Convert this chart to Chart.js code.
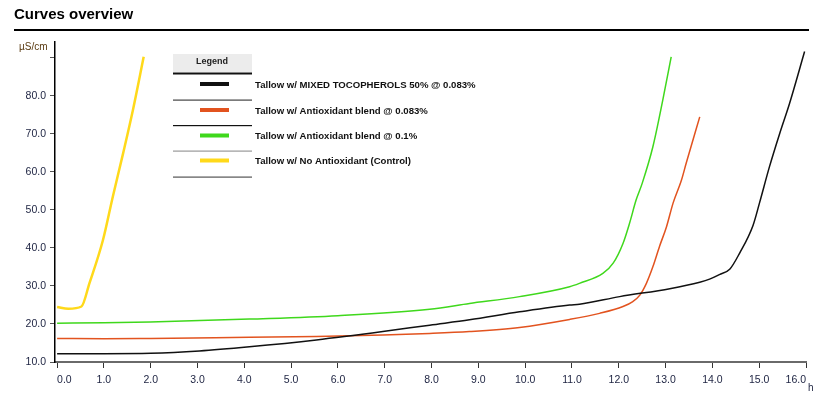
<!DOCTYPE html>
<html>
<head>
<meta charset="utf-8">
<script src="https://cdn.jsdelivr.net/npm/chart.js@4"></script>
<style>
  html, body { margin: 0; padding: 0; background: #fff; }
  #wrap { width: 814px; height: 397px; }
</style>
</head>
<body>
<div id="wrap"><canvas id="curves"></canvas></div>
<script>
// values (hours vs conductivity in µS/cm)
const seriesLabels = [
  "Tallow w/ MIXED TOCOPHEROLS 50% @ 0.083%",
  "Tallow w/ Antioxidant blend @ 0.083%",
  "Tallow w/ Antioxidant blend @ 0.1%",
  "Tallow w/ No Antioxidant (Control)"
];
const seriesColors = ["#111111", "#e2531f", "#3fd81c", "#ffd91a"];

const tocoHours = [0, 1.0, 2.0, 3.04, 4.11, 5.54, 6.96, 7.96, 8.81, 9.88, 10.95, 11.16, 12.02, 13.09, 13.73, 13.94, 14.15, 14.37, 14.58, 14.87, 15.01, 15.22, 15.44, 15.65, 15.97];
const tocoValues = [12.2, 12.2, 12.3, 12.9, 14.0, 15.8, 18.0, 19.7, 21.1, 23.2, 25.0, 25.2, 27.2, 29.3, 31.0, 31.8, 33.0, 34.4, 38.6, 46.0, 52.0, 61.4, 70.2, 78.1, 91.7];

const blend083Hours = [0, 1.0, 2.0, 4.11, 5.54, 6.96, 7.96, 8.81, 9.88, 10.95, 11.59, 12.09, 12.30, 12.45, 12.59, 12.73, 12.87, 13.02, 13.16, 13.34, 13.44, 13.73];
const blend083Values = [16.2, 16.1, 16.2, 16.5, 16.7, 17.1, 17.5, 18.0, 19.1, 21.2, 22.8, 24.6, 25.9, 27.6, 30.7, 35.1, 40.4, 45.6, 51.8, 57.9, 62.3, 74.5];

const blend01Hours = [0, 1.0, 1.99, 4.11, 6.0, 7.96, 8.81, 9.88, 10.95, 11.16, 11.66, 11.88, 12.09, 12.23, 12.37, 12.50, 12.73, 12.94, 13.12];
const blend01Values = [20.2, 20.3, 20.5, 21.3, 22.2, 23.9, 25.4, 27.2, 29.8, 30.7, 33.3, 36.0, 41.2, 46.5, 52.6, 57.0, 66.7, 78.9, 90.3];

const controlHours = [0, 0.24, 0.52, 0.69, 0.98, 1.19, 1.41, 1.62, 1.85];
const controlValues = [24.5, 24.0, 24.6, 30.7, 42.1, 53.5, 64.9, 76.3, 90.3];

const xTickValues = [0, 1, 2, 3, 4, 5, 6, 7, 8, 9, 10, 11, 12, 13, 14, 15, 16];
const yTickValues = [10, 20, 30, 40, 50, 60, 70, 80, 90];
const yLabelledMax = 80;

function toPoints(xs, ys) {
  return xs.map((x, i) => ({ x: x, y: ys[i] }));
}

const tickFont = { family: "'Liberation Sans', Arial, sans-serif", size: 10.5 };

// title, unit labels and the table-style legend
const decorPlugin = {
  id: "decor",
  afterDraw(chart) {
    const ctx = chart.ctx;
    ctx.save();
    ctx.fillStyle = "#000";
    ctx.font = "bold 15px 'Liberation Sans', Arial, sans-serif";
    ctx.textBaseline = "middle";
    ctx.textAlign = "left";
    ctx.fillText("Curves overview", 14, 15);
    ctx.fillRect(14, 29, 795, 2);

    ctx.fillStyle = "#5a3b12";
    ctx.font = "10px 'Liberation Sans', Arial, sans-serif";
    ctx.fillText("\u00b5S/cm", 19, 47);
    ctx.fillStyle = "#1c2240";
    ctx.fillText("h", 808, 388);

    // legend
    ctx.fillStyle = "#ececec";
    ctx.fillRect(173, 54, 79, 18);
    ctx.fillStyle = "#222";
    ctx.font = "bold 9px 'Liberation Sans', Arial, sans-serif";
    ctx.textAlign = "center";
    ctx.fillText("Legend", 212, 62);
    const sepY = [73, 100, 125.5, 151, 177];
    const sepColors = ["#111", "#444", "#111", "#999", "#555"];
    sepY.forEach((y, i) => {
      ctx.fillStyle = sepColors[i];
      ctx.fillRect(173, y - 0.5, 79, i === 0 ? 2 : 1.2);
    });
    const rowY = [84, 110, 135.5, 160.5];
    ctx.textAlign = "left";
    ctx.font = "bold 9.6px 'Liberation Sans', Arial, sans-serif";
    chart.data.datasets.forEach((ds, i) => {
      ctx.fillStyle = ds.borderColor;
      ctx.fillRect(200, rowY[i] - 2, 29, 4);
      ctx.fillStyle = "#111";
      ctx.fillText(ds.label, 255, rowY[i] + 1);
    });
    ctx.restore();
  }
};

new Chart(document.getElementById("curves"), {
  type: "line",
  data: {
    datasets: [
      { label: seriesLabels[0], data: toPoints(tocoHours, tocoValues), borderColor: seriesColors[0], borderWidth: 1.5 },
      { label: seriesLabels[1], data: toPoints(blend083Hours, blend083Values), borderColor: seriesColors[1], borderWidth: 1.5 },
      { label: seriesLabels[2], data: toPoints(blend01Hours, blend01Values), borderColor: seriesColors[2], borderWidth: 1.5 },
      { label: seriesLabels[3], data: toPoints(controlHours, controlValues), borderColor: seriesColors[3], borderWidth: 2.5 },
    ],
  },
  options: {
    responsive: true,
    maintainAspectRatio: false,
    animation: false,
    elements: {
      point: { radius: 0, hoverRadius: 0 },
      line: { cubicInterpolationMode: "monotone", fill: false },
    },
    layout: { padding: { top: 42, right: 8, left: 0, bottom: 0 } },
    plugins: {
      legend: { display: false },
      tooltip: { enabled: false },
      title: { display: false },
    },
    scales: {
      x: {
        type: "linear",
        min: -0.045,
        max: 16,
        afterBuildTicks: (scale) => { scale.ticks = xTickValues.map((v) => ({ value: v })); },
        afterFit: (scale) => { scale.height = 35; scale.paddingLeft = 0; scale.paddingRight = 0; },
        border: { display: true, color: "#6a6a6a", width: 2 },
        grid: { drawOnChartArea: false, drawTicks: true, tickLength: 6, color: "#333" },
        ticks: {
          color: "#1c2240",
          font: tickFont,
          padding: 6,
          align: "inner",
          maxRotation: 0,
          autoSkip: false,
          callback: (v) => Number(v).toFixed(1),
        },
      },
      y: {
        type: "linear",
        min: 10,
        max: 94.2,
        afterBuildTicks: (scale) => { scale.ticks = yTickValues.map((v) => ({ value: v })); },
        afterFit: (scale) => { scale.width = 55; scale.paddingTop = 0; scale.paddingBottom = 0; },
        border: { display: true, color: "#000", width: 1.5 },
        grid: { drawOnChartArea: false, drawTicks: true, tickLength: 5, color: "#555" },
        ticks: {
          color: "#1c2240",
          font: tickFont,
          padding: 4,
          autoSkip: false,
          callback: (v) => (v > yLabelledMax ? "" : Number(v).toFixed(1)),
        },
      },
    },
  },
  plugins: [decorPlugin],
});
</script>
</body>
</html>
